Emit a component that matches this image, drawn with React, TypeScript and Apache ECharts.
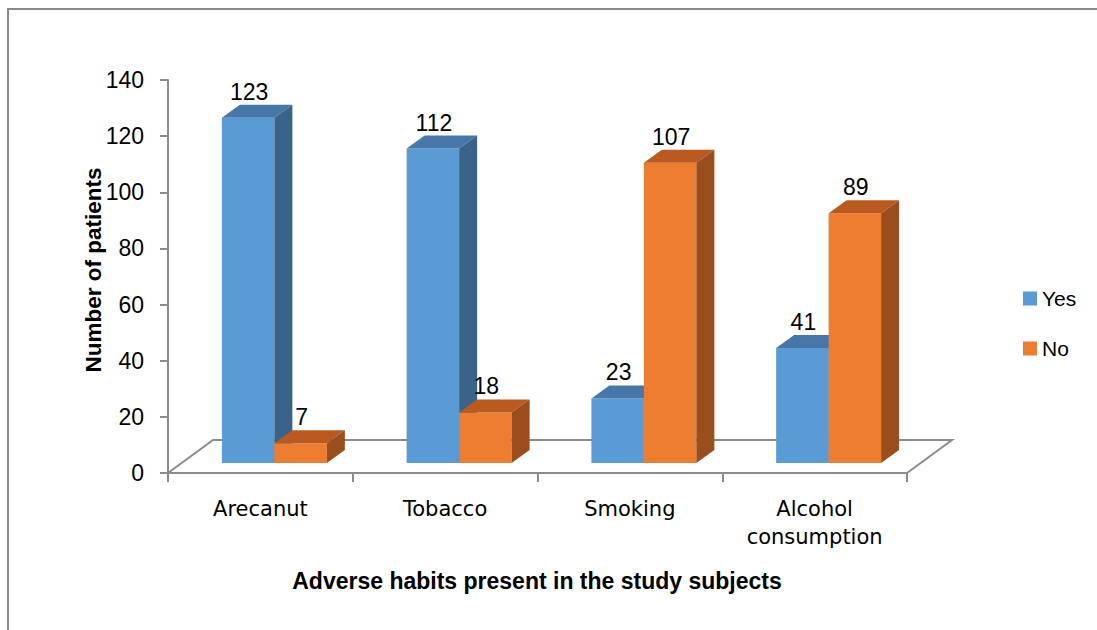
import React, { useEffect, useRef } from "react";
import * as echarts from "echarts";

const categories = ["Arecanut", "Tobacco", "Smoking", "Alcohol\nconsumption"];
const seriesNames = ["Yes", "No"];
const yesValues = [123, 112, 23, 41];
const noValues = [7, 18, 107, 89];
const yTicks = { min: 0, max: 140, interval: 20 };
const xTitle = "Adverse habits present in the study subjects";
const yTitle = "Number of patients";

const FRONT = ["#5B9BD5", "#ED7D31"];
const TOP = ["#4777A8", "#BA5A21"];
const SIDE = ["#3A6389", "#9A4D1D"];

// 3D geometry (pixels)
const FLOOR_DX = 45;
const FLOOR_DY = -33;
const FX = 14; // bar front plane offset from floor front
const FY = -10;
const DX = 18; // bar depth
const DY = -13;
const BAR_RATIO = 0.284;

const AXIS_COLOR = "#8C8C8C";
const GRID = { left: 168, right: 190, top: 80, bottom: 157 };

function makeRender(si: number) {
  return (params: any, api: any) => {
    const idx = api.value(0);
    const v = api.value(1);
    const base = api.coord([idx, 0]);
    const top = api.coord([idx, v]);
    const band = api.size([1, 0])[0];
    const w = band * BAR_RATIO;
    const x0 = base[0] + FX - (si === 0 ? w : 0);
    const yT = top[1] + FY;
    const yB = base[1] + FY;
    const children: any[] = [
      {
        type: "rect",
        shape: { x: x0, y: yT, width: w, height: yB - yT },
        style: { fill: FRONT[si] },
      },
      {
        type: "polygon",
        shape: {
          points: [
            [x0, yT],
            [x0 + w, yT],
            [x0 + w + DX, yT + DY],
            [x0 + DX, yT + DY],
          ],
        },
        style: { fill: TOP[si] },
      },
      {
        type: "polygon",
        shape: {
          points: [
            [x0 + w, yT],
            [x0 + w + DX, yT + DY],
            [x0 + w + DX, yB + DY],
            [x0 + w, yB],
          ],
        },
        style: { fill: SIDE[si] },
      },
      {
        type: "text",
        x: x0 + w / 2 + 1,
        y: yT + DY - 13,
        style: {
          text: String(v),
          align: "center",
          verticalAlign: "middle",
          fontSize: 23,
          fontFamily: "Liberation Sans",
          fill: "#000",
        },
      },
    ];
    return { type: "group", children };
  };
}

export default function App() {
  const ref = useRef<HTMLDivElement>(null);
  useEffect(() => {
    if (!ref.current) return;
    const chart = echarts.init(ref.current, null, { renderer: "svg" });
    const fL = [GRID.left, 630 - GRID.bottom];
    const fR = [1097 - GRID.right, 630 - GRID.bottom];
    chart.setOption({
      animation: false,
      backgroundColor: "#fff",
      grid: { ...GRID },
      legend: {
        orient: "vertical",
        left: 1018,
        top: 283,
        itemWidth: 14,
        itemHeight: 14,
        itemGap: 29,
        icon: "rect",
        textStyle: { fontSize: 21, fontFamily: "Liberation Sans", color: "#000" },
        data: seriesNames.map((n, i) => ({ name: n, itemStyle: { color: FRONT[i] } })),
      },
      xAxis: {
        type: "category",
        data: categories,
        axisLine: { lineStyle: { color: AXIS_COLOR, width: 2 } },
        axisTick: { show: true, length: 9, lineStyle: { color: AXIS_COLOR, width: 2 } },
        axisLabel: {
          margin: 22,
          fontSize: 21,
          lineHeight: 28,
          fontFamily: "DejaVu Sans",
          color: "#000",
          verticalAlign: "top",
        },
      },
      yAxis: {
        type: "value",
        min: yTicks.min,
        max: yTicks.max,
        interval: yTicks.interval,
        splitLine: { show: false },
        axisLine: { show: true, lineStyle: { color: AXIS_COLOR, width: 2 } },
        axisTick: { show: true, length: 8, lineStyle: { color: AXIS_COLOR, width: 2 } },
        axisLabel: {
          margin: 24,
          fontSize: 23,
          fontFamily: "Liberation Sans",
          color: "#000",
        },
      },
      graphic: [
        {
          type: "rect",
          shape: { x: 8, y: 9, width: 1200, height: 800 },
          style: { fill: "none", stroke: "#8A8A8A", lineWidth: 2 },
          silent: true,
        },
        {
          type: "polyline",
          shape: {
            points: [
              fL,
              [fL[0] + FLOOR_DX, fL[1] + FLOOR_DY],
              [fR[0] + FLOOR_DX, fR[1] + FLOOR_DY],
              fR,
            ],
          },
          style: { fill: "none", stroke: AXIS_COLOR, lineWidth: 2 },
          silent: true,
        },
        {
          type: "text",
          x: 93,
          y: 270,
          rotation: Math.PI / 2,
          style: {
            text: yTitle,
            align: "center",
            verticalAlign: "middle",
            fontSize: 22.5,
            fontWeight: "bold",
            fontFamily: "Liberation Sans",
            fill: "#000",
          },
        },
        {
          type: "text",
          x: 537,
          y: 581,
          style: {
            text: xTitle,
            align: "center",
            verticalAlign: "middle",
            fontSize: 23,
            fontWeight: "bold",
            fontFamily: "Liberation Sans",
            fill: "#000",
          },
        },
      ],
      series: [yesValues, noValues].map((vals, si) => ({
        type: "custom",
        name: seriesNames[si],
        itemStyle: { color: FRONT[si] },
        renderItem: makeRender(si),
        encode: { x: 0, y: 1 },
        data: vals.map((v, i) => [i, v]),
      })),
    });
    return () => chart.dispose();
  }, []);
  return (
    <div
      ref={ref}
      style={{ position: "absolute", left: 0, top: 0, width: 1097, height: 630 }}
    />
  );
}
